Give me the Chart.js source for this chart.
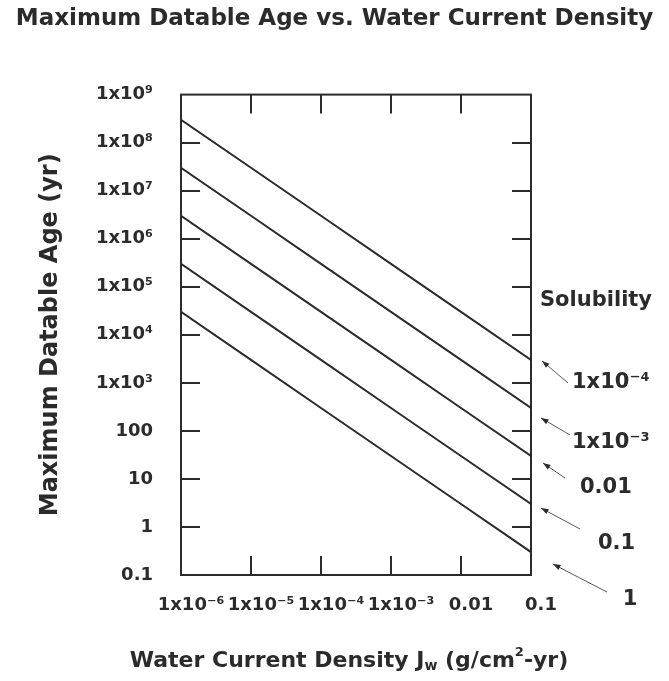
<!DOCTYPE html>
<html>
<head>
<meta charset="utf-8">
<script src="https://cdn.jsdelivr.net/npm/chart.js@4.4.0/dist/chart.umd.min.js"></script>
<style>
  html, body { margin: 0; padding: 0; background: #fff; }
  #wrap { width: 669px; height: 681px; }
</style>
</head>
<body>
<div id="wrap"><canvas id="chart"></canvas></div>
<script>
// ====== Data ======
const CURRENT_DENSITY = [1e-6, 1e-5, 1e-4, 1e-3, 0.01, 0.1];
const SOLUBILITY = ["1x10⁻⁴", "1x10⁻³", "0.01", "0.1", "1"];
const AGE_SOL_1E4 = [3e8, 3e7, 3e6, 3e5, 3e4, 3e3];
const AGE_SOL_1E3 = [3e7, 3e6, 3e5, 3e4, 3e3, 300];
const AGE_SOL_001 = [3e6, 3e5, 3e4, 3e3, 300, 30];
const AGE_SOL_01  = [3e5, 3e4, 3e3, 300, 30, 3];
const AGE_SOL_1   = [3e4, 3e3, 300, 30, 3, 0.3];
const AGES = [AGE_SOL_1E4, AGE_SOL_1E3, AGE_SOL_001, AGE_SOL_01, AGE_SOL_1];

const X_TICKS = [1e-6, 1e-5, 1e-4, 1e-3, 0.01, 0.1];
const X_TICK_LABELS = ["1x10⁻⁶", "1x10⁻⁵", "1x10⁻⁴", "1x10⁻³", "0.01", "0.1"];
const Y_TICKS = [0.1, 1, 10, 100, 1e3, 1e4, 1e5, 1e6, 1e7, 1e8, 1e9];
const Y_TICK_LABELS = ["0.1", "1", "10", "100", "1x10³", "1x10⁴", "1x10⁵", "1x10⁶", "1x10⁷", "1x10⁸", "1x10⁹"];

const FONT = "'DejaVu Sans', sans-serif";
const INK = "#2b2b2b";

// callout placement relative to each line's right end (px)
const CALLOUTS = [
  { tip: [11, 1],  tail: [37, 23], label: [41, 23], align: "left" },
  { tip: [10, 10], tail: [39, 27], label: [41, 35], align: "left" },
  { tip: [12, 7],  tail: [34, 22], label: [49, 32], align: "left" },
  { tip: [10, 4],  tail: [49, 25], label: [67, 40], align: "left" },
  { tip: [22, 12], tail: [76, 40], label: [99, 47], align: "center" }
];

// ====== Frame, inward ticks, callouts, x title ======
const decorations = {
  id: "decorations",
  afterDraw(chart) {
    const { ctx, chartArea: a, scales: { x, y } } = chart;
    ctx.save();
    ctx.strokeStyle = INK;
    ctx.lineWidth = 2;
    ctx.strokeRect(a.left, a.top, a.right - a.left, a.bottom - a.top);
    ctx.beginPath();
    Y_TICKS.slice(1, -1).forEach(v => {
      const py = Math.round(y.getPixelForValue(v));
      ctx.moveTo(a.left, py); ctx.lineTo(a.left + 19, py);
      ctx.moveTo(a.right, py); ctx.lineTo(a.right - 19, py);
    });
    X_TICKS.slice(1, -1).forEach(v => {
      const px = Math.round(x.getPixelForValue(v));
      ctx.moveTo(px, a.top); ctx.lineTo(px, a.top + 19);
      ctx.moveTo(px, a.bottom); ctx.lineTo(px, a.bottom - 19);
    });
    ctx.stroke();

    // Solubility callouts
    ctx.fillStyle = INK;
    ctx.font = "bold 21px " + FONT;
    ctx.textBaseline = "middle";
    ctx.textAlign = "left";
    const firstEnd = y.getPixelForValue(AGES[0][AGES[0].length - 1]);
    ctx.fillText("Solubility", a.right + 9, firstEnd - 59);

    AGES.forEach((arr, i) => {
      const ex = a.right;
      const ey = y.getPixelForValue(arr[arr.length - 1]);
      const c = CALLOUTS[i];
      const tx = ex + c.tip[0], ty = ey + c.tip[1];
      const lx = ex + c.tail[0], ly = ey + c.tail[1];
      ctx.strokeStyle = "#555";
      ctx.lineWidth = 1;
      ctx.beginPath();
      ctx.moveTo(lx, ly); ctx.lineTo(tx, ty);
      ctx.stroke();
      const ang = Math.atan2(ty - ly, tx - lx);
      ctx.beginPath();
      ctx.moveTo(tx, ty);
      ctx.lineTo(tx - 8 * Math.cos(ang - 0.35), ty - 8 * Math.sin(ang - 0.35));
      ctx.lineTo(tx - 8 * Math.cos(ang + 0.35), ty - 8 * Math.sin(ang + 0.35));
      ctx.closePath();
      ctx.fill();
      ctx.textAlign = c.align;
      ctx.fillText(SOLUBILITY[i], ex + c.label[0], ey + c.label[1]);
    });

    // x axis title with subscript / superscript
    const parts = [
      ["Water Current Density J", 22, 0],
      ["w", 14, 5],
      [" (g/cm", 22, 0],
      ["2", 13, -8],
      ["-yr)", 22, 0]
    ];
    let total = 0;
    parts.forEach(p => { ctx.font = "bold " + p[1] + "px " + FONT; total += ctx.measureText(p[0]).width; });
    let cx = 349 - total / 2;
    const cy = 661;
    ctx.textAlign = "left";
    parts.forEach(p => {
      ctx.font = "bold " + p[1] + "px " + FONT;
      ctx.fillText(p[0], cx, cy + p[2]);
      cx += ctx.measureText(p[0]).width;
    });
    ctx.restore();
  }
};

// ====== Chart Setup ======
const ctx = document.getElementById("chart").getContext("2d");
const chart = new Chart(ctx, {
  type: "line",
  data: {
    datasets: AGES.map((arr, i) => ({
      label: SOLUBILITY[i],
      data: CURRENT_DENSITY.map((xv, j) => ({ x: xv, y: arr[j] })),
      borderColor: INK,
      borderWidth: 2,
      pointRadius: 0,
      tension: 0
    }))
  },
  options: {
    responsive: true,
    maintainAspectRatio: false,
    animation: false,
    layout: { padding: 0 },
    plugins: {
      legend: { display: false },
      tooltip: { enabled: false },
      title: {
        display: true,
        text: "Maximum Datable Age vs. Water Current Density",
        color: INK,
        font: { family: FONT, size: 23, weight: "bold", lineHeight: 1.2 },
        padding: { top: 5, bottom: 62 }
      }
    },
    scales: {
      x: {
        type: "logarithmic",
        min: 1e-6,
        max: 0.1,
        grid: { display: false, drawTicks: false },
        border: { display: false },
        afterBuildTicks: s => { s.ticks = X_TICKS.map(v => ({ value: v })); },
        afterFit: s => { s.height = 106; },
        ticks: {
          color: INK,
          font: { family: FONT, size: 18, weight: "bold" },
          padding: 20,
          maxRotation: 0,
          autoSkip: false,
          labelOffset: 10,
          callback: (v, i) => X_TICK_LABELS[i]
        }
      },
      y: {
        type: "logarithmic",
        min: 0.1,
        max: 1e9,
        grid: { display: false, drawTicks: false },
        border: { display: false },
        afterBuildTicks: s => { s.ticks = Y_TICKS.map(v => ({ value: v })); },
        afterFit: s => { s.width = 181; },
        ticks: {
          color: INK,
          font: { family: FONT, size: 18, weight: "bold" },
          padding: 28,
          autoSkip: false,
          callback: (v, i) => Y_TICK_LABELS[i]
        },
        title: {
          display: true,
          text: "Maximum Datable Age (yr)",
          color: INK,
          font: { family: FONT, size: 24, weight: "bold", lineHeight: 1.2 },
          padding: { top: 36, bottom: 0 }
        }
      },
      // empty right-hand box that leaves room for the solubility callouts
      side: {
        type: "linear",
        position: "right",
        min: 0,
        max: 1,
        grid: { display: false, drawTicks: false },
        border: { display: false },
        ticks: { display: false },
        afterFit: s => { s.width = 138; }
      }
    }
  },
  plugins: [decorations]
});
</script>
</body>
</html>
